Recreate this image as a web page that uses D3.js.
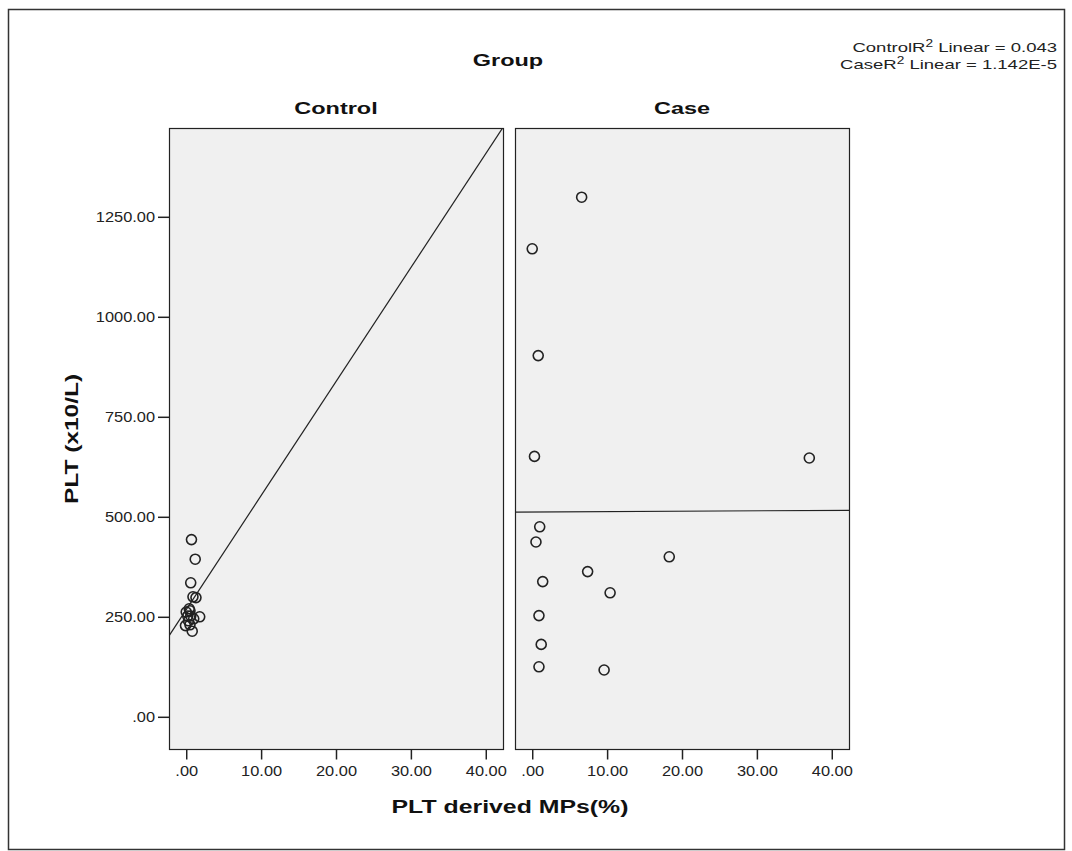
<!DOCTYPE html>
<html>
<head>
<meta charset="UTF-8">
<title>PLT vs PLT derived MPs by group</title>
<style>
  body { margin: 0; background: #fff; }
  svg { display: block; font-family: "Liberation Sans", Arial, sans-serif; }
</style>
</head>
<body>
<svg id="chart" width="1072" height="851"></svg>
<script src="https://d3js.org/d3.v7.min.js"></script>
<script>
// groups (panels)
const groups = ["Control", "Case"];

// Control: PLT derived MPs(%) and PLT
const controlX = [0.7, 1.2, 0.6, 0.9, 1.3, 0.0, 0.2, 0.5, 0.3, 1.0, 1.8, 0.5, -0.1, 0.8, 0.6, 0.4];
const controlY = [443, 394, 335, 300, 298, 262, 252, 265, 240, 245, 250, 230, 228, 214, 252, 270];

// Case
const caseX = [6.6, 0.0, 0.8, 0.3, 37.0, 1.0, 0.5, 18.3, 7.4, 1.4, 10.4, 0.9, 1.2, 0.9, 9.6];
const caseY = [1299, 1170, 903, 651, 647, 475, 437, 400, 363, 338, 310, 253, 181, 125, 117];

// fit lines (intercept, slope)
const fitIntercept = [268, 512];
const fitSlope = [28.5, 0.1];
const r2Labels = ["ControlR", "CaseR"];
const r2Values = ["0.043", "1.142E-5"];

const xTicks = [0, 10, 20, 30, 40];
const yTicks = [0, 250, 500, 750, 1000, 1250];

const svg = d3.select("#chart");
const fmt = v => v.toFixed(2).replace(/^0\./, ".");

// the SPSS text is drawn wider than the font, stretch it a bit
function stretch(sel, k) {
  sel.each(function() {
    const w = this.getComputedTextLength();
    d3.select(this).attr("textLength", w * k).attr("lengthAdjust", "spacingAndGlyphs");
  });
}

// outer frame
svg.append("rect")
  .attr("x", 8.5).attr("y", 9.5)
  .attr("width", 1056).attr("height", 840)
  .attr("fill", "none").attr("stroke", "#333").attr("stroke-width", 1.5);

const panelTop = 128, panelBottom = 749;
const panelLeft = [169, 515], panelW = 334;

const y = d3.scaleLinear().domain([-80.5, 1472]).range([panelBottom, panelTop]);

const data = [
  controlX.map((v, i) => ({x: v, y: controlY[i]})),
  caseX.map((v, i) => ({x: v, y: caseY[i]}))
];

groups.forEach((g, gi) => {
  const x = d3.scaleLinear().domain([-2.3, 42.3]).range([panelLeft[gi], panelLeft[gi] + panelW]);
  const p = svg.append("g");

  p.append("clipPath").attr("id", "clip" + gi)
    .append("rect")
    .attr("x", panelLeft[gi]).attr("y", panelTop)
    .attr("width", panelW).attr("height", panelBottom - panelTop);

  p.append("rect")
    .attr("x", panelLeft[gi] + 0.5).attr("y", panelTop + 0.5)
    .attr("width", panelW).attr("height", panelBottom - panelTop)
    .attr("fill", "#f0f0f0").attr("stroke", "#222").attr("stroke-width", 1.2);

  // x axis
  const xa = p.append("g").attr("transform", "translate(0," + (panelBottom + 0.5) + ")")
    .call(d3.axisBottom(x).tickValues(xTicks).tickFormat(fmt).tickSize(10).tickPadding(7));
  xa.select(".domain").remove();
  xa.selectAll("line").attr("stroke", "#222").attr("stroke-width", 1.5);
  xa.selectAll("text").attr("font-size", 14).attr("fill", "#222")
    .attr("font-family", "Liberation Sans, Arial, sans-serif")
    .call(stretch, 1.17);

  // fit line
  const xd = x.domain();
  p.append("line")
    .attr("clip-path", "url(#clip" + gi + ")")
    .attr("x1", x(xd[0])).attr("y1", y(fitIntercept[gi] + fitSlope[gi] * xd[0]))
    .attr("x2", x(xd[1])).attr("y2", y(fitIntercept[gi] + fitSlope[gi] * xd[1]))
    .attr("stroke", "#222").attr("stroke-width", 1.2);

  p.selectAll("circle").data(data[gi]).join("circle")
    .attr("cx", d => x(d.x)).attr("cy", d => y(d.y))
    .attr("r", 5)
    .attr("fill", "none").attr("stroke", "#222").attr("stroke-width", 1.6);

  p.append("text")
    .attr("x", panelLeft[gi] + panelW / 2).attr("y", 114)
    .attr("text-anchor", "middle").attr("font-weight", "bold").attr("font-size", 17)
    .attr("fill", "#111")
    .text(g)
    .call(stretch, 1.38);
});

// y axis
const ya = svg.append("g").attr("transform", "translate(169,0)")
  .call(d3.axisLeft(y).tickValues(yTicks).tickFormat(fmt).tickSize(11).tickPadding(3));
ya.select(".domain").remove();
ya.selectAll("line").attr("stroke", "#222").attr("stroke-width", 1.5);
ya.selectAll("text").attr("font-size", 14).attr("fill", "#222")
  .attr("font-family", "Liberation Sans, Arial, sans-serif")
  .call(stretch, 1.17);

// titles
svg.append("text").attr("x", 508).attr("y", 66)
  .attr("text-anchor", "middle").attr("font-weight", "bold").attr("font-size", 17)
  .attr("fill", "#111").text("Group")
  .call(stretch, 1.38);

svg.append("text").attr("x", 510).attr("y", 813)
  .attr("text-anchor", "middle").attr("font-weight", "bold").attr("font-size", 18)
  .attr("fill", "#111").text("PLT derived MPs(%)")
  .call(stretch, 1.38);

svg.append("text")
  .attr("transform", "translate(78,439) rotate(-90)")
  .attr("text-anchor", "middle").attr("font-weight", "bold").attr("font-size", 18)
  .attr("fill", "#111").text("PLT (x10/L)")
  .call(stretch, 1.36);

// R² legend
r2Labels.forEach((lab, i) => {
  const t = svg.append("text")
    .attr("x", 1057).attr("y", 52 + i * 17)
    .attr("text-anchor", "end").attr("font-size", 13.5).attr("fill", "#222");
  t.append("tspan").text(lab);
  t.append("tspan").attr("dy", -5).attr("font-size", 10).text("2");
  t.append("tspan").attr("dy", 5).text(" Linear = " + r2Values[i]);
  t.call(stretch, 1.37);
});
</script>
</body>
</html>
